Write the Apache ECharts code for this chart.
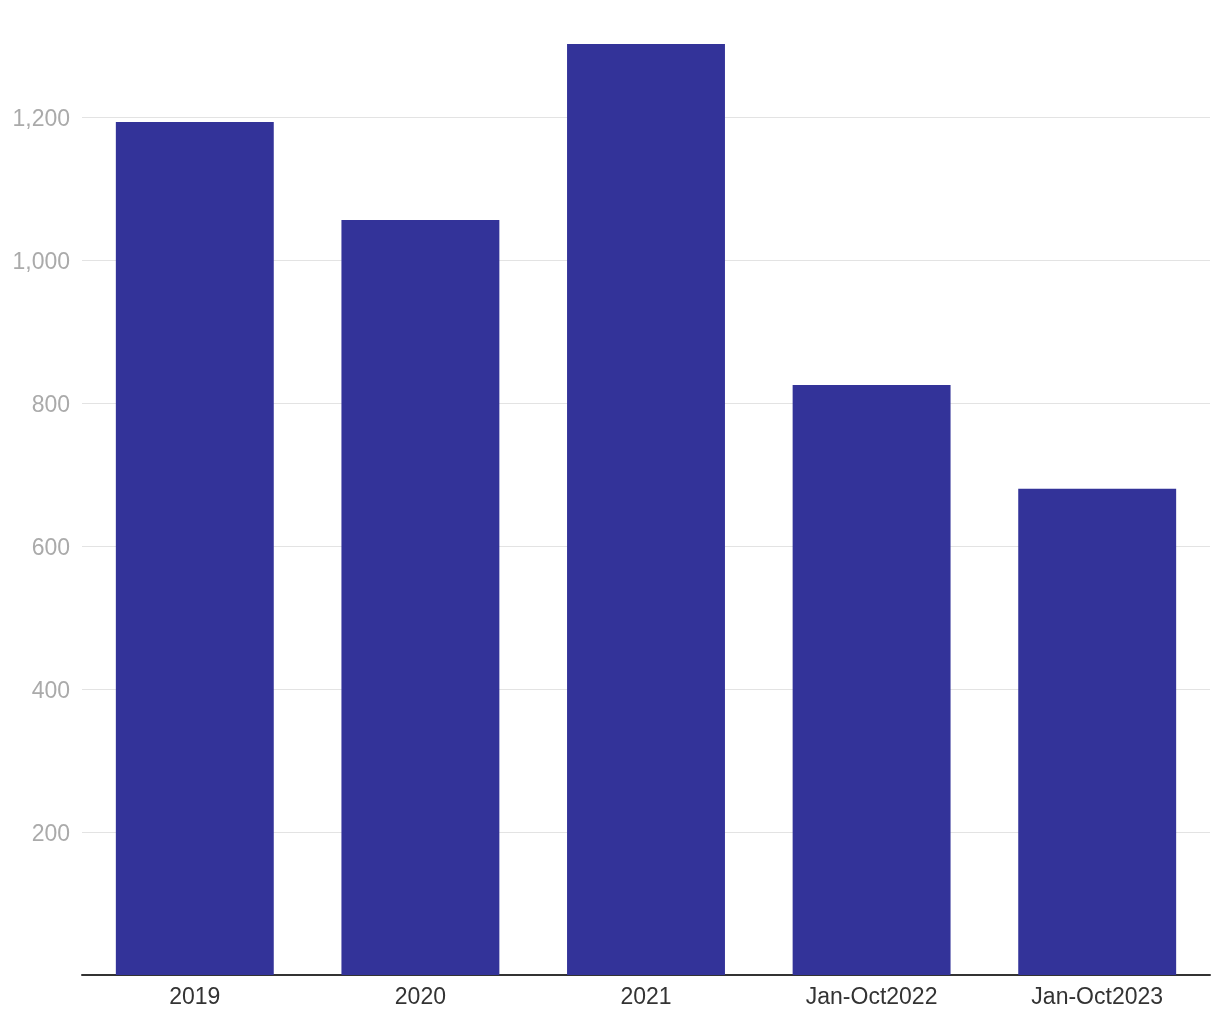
<!DOCTYPE html>
<html>
<head>
<meta charset="utf-8">
<script src="https://cdn.jsdelivr.net/npm/echarts@6/dist/echarts.min.js"></script>
<style>html,body{margin:0;padding:0;background:#fff}#c{width:1220px;height:1020px}</style>
</head>
<body>
<div id="c"></div>
<script>
const categories = ['2019', '2020', '2021', 'Jan-Oct2022', 'Jan-Oct2023'];
const values = [1193, 1056, 1302, 825, 680];
const yTicks = [200, 400, 600, 800, 1000, 1200];

const chart = echarts.init(document.getElementById('c'));
chart.setOption({
  animation: false,
  grid: { left: 82, right: 10, top: 44, bottom: 45, containLabel: false },
  xAxis: {
    type: 'category',
    data: categories,
    axisLine: { lineStyle: { color: '#333', width: 2 } },
    axisTick: { show: false },
    axisLabel: { color: '#333', fontSize: 23, fontFamily: 'Liberation Sans, Arial, sans-serif', margin: 11 }
  },
  yAxis: {
    type: 'value',
    min: 0,
    max: function (v) { return v.max; },
    interval: 200,
    axisLine: { show: false },
    axisTick: { show: false },
    splitLine: { show: true, showMinLine: false, showMaxLine: false, lineStyle: { color: '#e3e3e3', width: 1 } },
    axisLabel: {
      showMinLabel: false,
      showMaxLabel: false,
      margin: 12,
      formatter: function (v) { return yTicks.indexOf(v) >= 0 ? '{t|' + v.toLocaleString('en-US') + '}' : ''; },
      rich: {
        t: {
          color: '#aaaaaa',
          fontSize: 23,
          fontFamily: 'Liberation Sans, Arial, sans-serif',
          padding: [6, 0, 0, 0]
        }
      }
    }
  },
  series: [{
    type: 'bar',
    data: values,
    barWidth: '70%',
    itemStyle: { color: '#333399' }
  }]
});
</script>
</body>
</html>
